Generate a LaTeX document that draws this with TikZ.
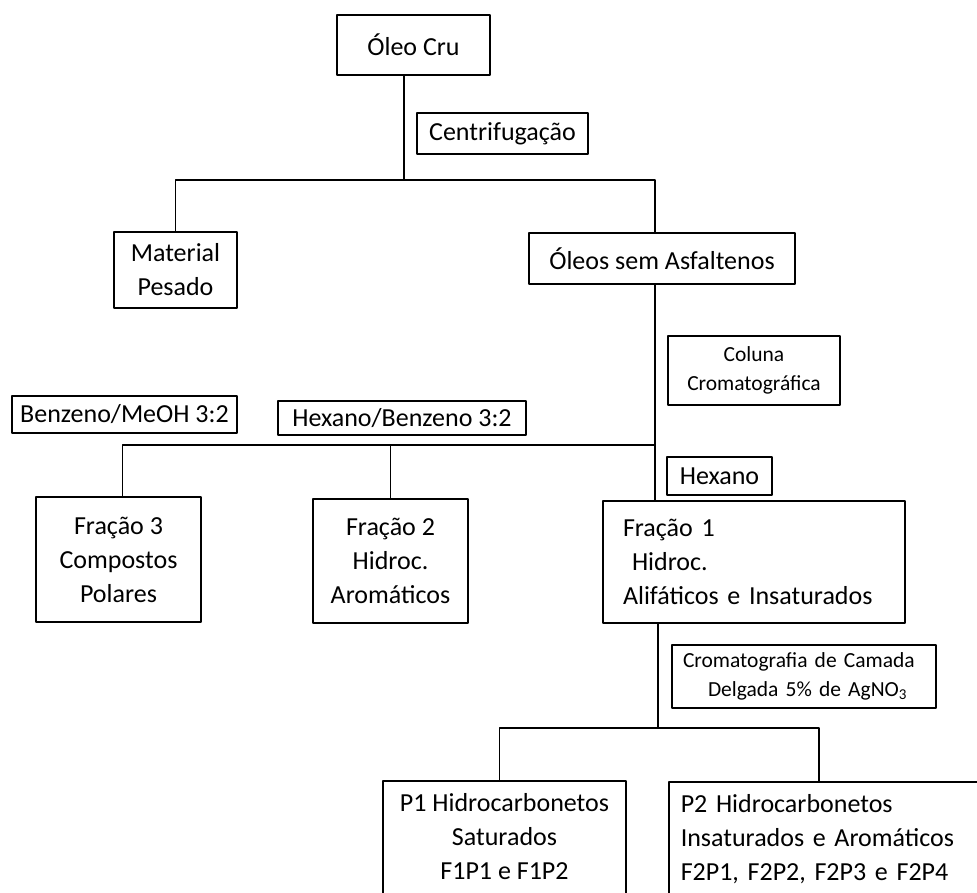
\documentclass[tikz,border=0pt]{standalone}
\usepackage{fontspec}
\setmainfont{Carlito}

\begin{document}
\begin{tikzpicture}[line cap=round,line join=round,line width=1.5pt,x=1pt,y=-1pt,
  caixa/.style={draw,inner sep=0pt,align=center,font=\fontsize{26}{34}\selectfont},
  nota/.style={caixa,font=\fontsize{21.5}{29}\selectfont}]
\useasboundingbox (0,0) rectangle (977,892);
\clip (0,0) rectangle (977,892);
\node [caixa,minimum width=153pt,minimum height=60pt] (oleo) at (413.5,45) {Óleo Cru};
\node [caixa,minimum width=171pt,minimum height=41pt] (centrif) at (502.5,133.5) {Centrifugação};
\node [caixa,minimum width=123pt,minimum height=76pt] (material) at (175.5,270) {Material\\Pesado};
\node [caixa,minimum width=266pt,minimum height=51pt] (oleos) at (662,258.5) {Óleos sem Asfaltenos};
\node [nota,minimum width=172pt,minimum height=69pt] (coluna) at (754,370.5) {Coluna\\Cromatográfica};
\node [caixa,minimum width=225pt,minimum height=37pt] (benzmeoh) at (124.5,414.5) {Benzeno/MeOH 3:2};
\node [caixa,minimum width=248pt,minimum height=34pt] (hexbenz) at (402,418) {Hexano/Benzeno 3:2};
\node [caixa,minimum width=105pt,minimum height=38pt] (hexano) at (719.5,476) {Hexano};
\node [caixa,minimum width=165pt,minimum height=125pt] (frac3) at (118.5,559.5) {Fração 3\\Compostos\\Polares};
\node [caixa,minimum width=155pt,minimum height=124pt] (frac2) at (390.5,561) {Fração 2\\Hidroc.\\Aromáticos};
\node [caixa,align=left,text width=262pt,inner xsep=20pt,minimum height=122pt] (frac1) at (754,562)
  {Fração 1\\\hspace*{9pt}Hidroc.\\Alifáticos e Insaturados};
\node [nota,align=left,text width=242pt,inner xsep=11pt,minimum height=63pt] (cromat) at (804,676.5)
  {Cromatografia de Camada\\\hspace*{25pt}Delgada 5\% de AgNO\textsubscript{3}};
\node [caixa,minimum width=243pt,minimum height=145pt] (p1) at (504.5,853.5)
  {P1 Hidrocarbonetos\\Saturados\\F1P1 e F1P2\\\mbox{}};
\node [caixa,align=left,anchor=north west,text width=320pt,inner xsep=12pt,minimum height=145pt] (p2) at (668,781)
  {P2 Hidrocarbonetos\\Insaturados e Aromáticos\\F2P1, F2P2, F2P3 e F2P4\\\mbox{}};
\coordinate (n1) at (404,180);
\coordinate (n2) at (655,445);
\coordinate (n3) at (658,728);
\draw (oleo.south -| n1) -- (n1);
\draw (material.north) |- (n1) -| ([xshift=-7pt]oleos.north);
\draw ([xshift=-7pt]oleos.south) -- ([xshift=-7pt]oleos.south |- frac1.north);
\draw ([xshift=4pt]frac3.north) |- (n2);
\draw (frac2.north) -- (frac2.north |- n2);
\draw (n3 |- frac1.south) -- (n3);
\draw ([xshift=-5pt]p1.north) |- (n3) -| ([xshift=-22pt]p2.north);
%\draw [red] (0,0) grid [step=100] (977,892);
\end{tikzpicture}
\end{document}
